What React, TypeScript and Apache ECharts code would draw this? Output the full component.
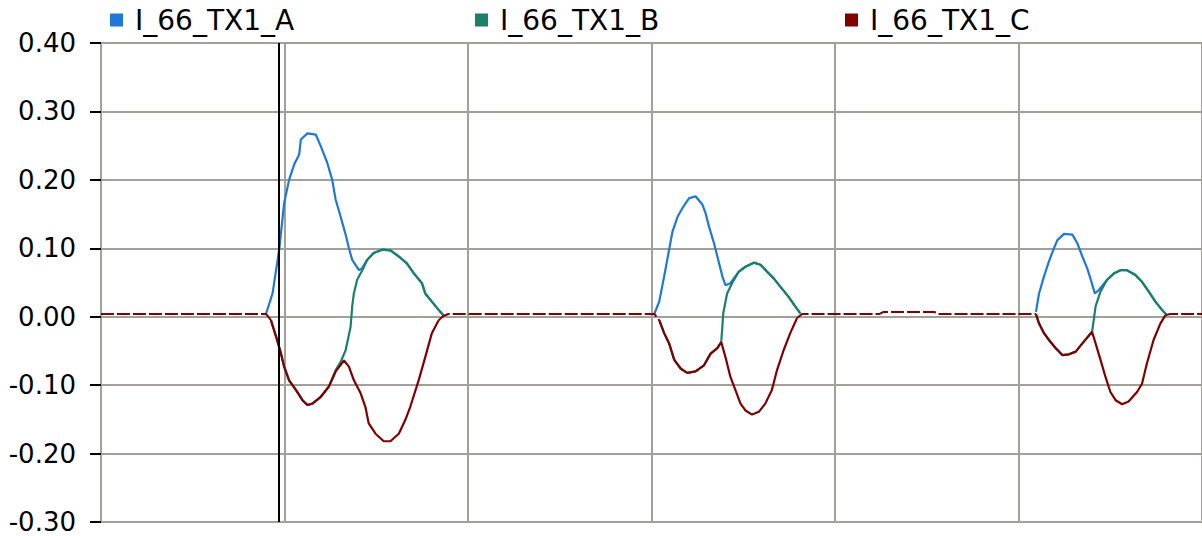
import React, { useEffect, useRef } from "react";
import * as echarts from "echarts";

// x in sample units (grid every 100), y in per-unit current
const SERIES_NAMES = ["I_66_TX1_A", "I_66_TX1_B", "I_66_TX1_C"];
const SERIES_COLORS = ["#1e78d7", "#1a8069", "#800000"];
const Y_TICKS = [-0.3, -0.2, -0.1, 0, 0.1, 0.2, 0.3, 0.4];
const CURSOR_X = 96.8;

const phaseA: [number, number][] = [
  [0, 0.004], [89.9, 0.004], [93.5, 0.034], [97.2, 0.1], [99.8, 0.166], [102.5, 0.2], [105.2, 0.222], [108.0, 0.237],
  [108.9, 0.259], [112.5, 0.268], [117.1, 0.266], [119.8, 0.249], [123.3, 0.225], [126.0, 0.2], [127.9, 0.171],
  [130.6, 0.146], [133.3, 0.12], [135.1, 0.1], [136.9, 0.083], [140.6, 0.068], [142.4, 0.071], [145.0, 0.083],
  [148.6, 0.093], [153.2, 0.098], [157.7, 0.097], [162.3, 0.088], [166.7, 0.078], [170.3, 0.064], [174.9, 0.049],
  [176.7, 0.034], [180.3, 0.022], [184.0, 0.01], [186.6, 0.002], [189.3, 0.004],
  [301.5, 0.004], [304.2, 0.022], [306.9, 0.059], [311.4, 0.124], [314.2, 0.146], [316.9, 0.159], [320.4, 0.173],
  [324.0, 0.176], [327.7, 0.164], [329.5, 0.151], [331.3, 0.132], [334.1, 0.107], [335.9, 0.088], [338.6, 0.059],
  [340.3, 0.046], [343.0, 0.049], [347.6, 0.066], [351.2, 0.073], [355.8, 0.079], [359.4, 0.076], [362.9, 0.066],
  [366.6, 0.056], [370.2, 0.044], [374.7, 0.029], [378.3, 0.015], [381.1, 0.005], [382.0, 0.004],
  [424.3, 0.004], [426.5, 0.007], [454.1, 0.007], [456.2, 0.004],
  [504.9, 0.004], [509.5, 0.007], [511.2, 0.034], [513.9, 0.059], [516.6, 0.081], [519.3, 0.1], [521.2, 0.112],
  [524.8, 0.121], [529.4, 0.12], [532.1, 0.107], [534.8, 0.088], [537.4, 0.071], [539.2, 0.056], [541.6, 0.034],
  [543.8, 0.039], [548.3, 0.054], [551.9, 0.063], [555.6, 0.068], [559.1, 0.068], [563.7, 0.061], [567.3, 0.051],
  [570.9, 0.037], [574.6, 0.022], [578.2, 0.01], [580.9, 0.002], [582.6, 0.004], [600, 0.004],
];

const phaseB: [number, number][] = [
  [0, 0.004], [89.9, 0.004], [92.6, -0.005], [95.4, -0.029], [98.1, -0.054], [99.8, -0.073], [102.5, -0.093],
  [106.2, -0.107], [109.8, -0.122], [112.5, -0.129], [115.2, -0.127], [119.8, -0.117], [124.2, -0.102],
  [127.9, -0.078], [130.6, -0.066], [133.3, -0.049], [136.0, -0.015], [136.9, 0.015], [137.8, 0.034], [139.6, 0.054],
  [142.4, 0.068], [145.0, 0.083], [148.6, 0.093], [153.2, 0.098], [157.7, 0.097], [162.3, 0.088], [166.7, 0.078],
  [170.3, 0.064], [174.9, 0.049], [176.7, 0.034], [180.3, 0.022], [184.0, 0.01], [186.6, 0.002], [189.3, 0.004],
  [301.5, 0.004], [304.2, -0.005], [306.9, -0.024], [309.6, -0.039], [312.4, -0.063], [316.0, -0.076],
  [319.5, -0.082], [324.0, -0.08], [328.6, -0.071], [332.2, -0.054], [335.9, -0.046], [338.0, -0.037],
  [338.6, -0.015], [339.1, 0.005], [341.2, 0.034], [343.9, 0.049], [347.6, 0.066], [351.2, 0.073], [355.8, 0.079],
  [359.4, 0.076], [362.9, 0.066], [366.6, 0.056], [370.2, 0.044], [374.7, 0.029], [378.3, 0.015], [381.1, 0.005],
  [382.0, 0.004],
  [424.3, 0.004], [426.5, 0.007], [454.1, 0.007], [456.2, 0.004],
  [509.5, 0.004], [511.2, -0.01], [513.9, -0.024], [516.6, -0.034], [520.3, -0.046], [523.9, -0.056],
  [527.5, -0.055], [531.2, -0.051], [534.8, -0.039], [540.1, -0.022], [541.0, -0.005], [542.0, 0.015],
  [544.7, 0.037], [548.3, 0.054], [551.9, 0.063], [555.6, 0.068], [559.1, 0.068], [563.7, 0.061], [567.3, 0.051],
  [570.9, 0.037], [574.6, 0.022], [578.2, 0.01], [580.9, 0.002], [582.6, 0.004], [600, 0.004],
];

const phaseC: [number, number][] = [
  [0, 0.004], [89.9, 0.004], [92.6, -0.005], [95.4, -0.029], [98.1, -0.054], [99.8, -0.073], [102.5, -0.093],
  [106.2, -0.107], [109.8, -0.122], [112.5, -0.129], [115.2, -0.127], [119.8, -0.117], [124.2, -0.102],
  [127.9, -0.08], [132.4, -0.064], [135.1, -0.073], [137.8, -0.093], [141.5, -0.112], [144.1, -0.132],
  [145.9, -0.156], [149.6, -0.171], [154.1, -0.182], [157.7, -0.182], [162.3, -0.171], [165.8, -0.151],
  [168.5, -0.132], [173.1, -0.093], [176.7, -0.059], [180.3, -0.024], [184.0, -0.005], [186.6, 0.001], [189.3, 0.004],
  [301.5, 0.004], [304.2, -0.005], [306.9, -0.024], [309.6, -0.039], [312.4, -0.063], [316.0, -0.076],
  [319.5, -0.082], [324.0, -0.08], [328.6, -0.071], [332.2, -0.054], [335.9, -0.046], [338.0, -0.037],
  [340.3, -0.059], [343.0, -0.088], [345.7, -0.107], [348.5, -0.127], [351.2, -0.137], [354.8, -0.143],
  [358.5, -0.139], [362.0, -0.127], [365.6, -0.107], [368.4, -0.078], [372.0, -0.049], [375.6, -0.024],
  [379.3, -0.002], [382.0, 0.004],
  [424.3, 0.004], [426.5, 0.007], [454.1, 0.007], [456.2, 0.004],
  [509.5, 0.004], [511.2, -0.01], [513.9, -0.024], [516.6, -0.034], [520.3, -0.046], [523.9, -0.056],
  [527.5, -0.055], [531.2, -0.051], [534.8, -0.039], [540.1, -0.022], [542.0, -0.039], [544.7, -0.063],
  [547.4, -0.088], [550.1, -0.11], [552.9, -0.122], [556.5, -0.128], [560.0, -0.124], [564.6, -0.11],
  [567.3, -0.098], [570.0, -0.068], [573.6, -0.034], [577.3, -0.01], [580.0, 0.002], [582.6, 0.004], [600, 0.004],
];

const SERIES_DATA = [phaseA, phaseB, phaseC];
const LEGEND_LEFTS = [110, 475, 845];
const FLAT_LIMIT = 0.008;

type Pt = [number, number] | null;

// Split one trace into its idle (near-zero) stretches and its active pulses,
// so the idle stretches can be drawn dashed and the pulses solid.
function splitTrace(data: [number, number][]) {
  const n = data.length;
  const segFlat: boolean[] = [];
  for (let i = 0; i < n - 1; i++) {
    segFlat.push(Math.abs(data[i][1]) <= FLAT_LIMIT && Math.abs(data[i + 1][1]) <= FLAT_LIMIT);
  }
  const curve: Pt[] = [];
  const flat: Pt[] = [];
  for (let i = 0; i < n; i++) {
    const prevFlat = i > 0 ? segFlat[i - 1] : true;
    const nextFlat = i < n - 1 ? segFlat[i] : true;
    if (!prevFlat || !nextFlat) {
      if (prevFlat && curve.length && curve[curve.length - 1] !== null) curve.push(null);
      curve.push(data[i]);
    }
    if ((i > 0 && prevFlat) || (i < n - 1 && nextFlat)) {
      if (!prevFlat && flat.length && flat[flat.length - 1] !== null) flat.push(null);
      flat.push(data[i]);
    }
  }
  return { curve, flat };
}

export default function App() {
  const ref = useRef<HTMLDivElement>(null);

  useEffect(() => {
    if (!ref.current) return;
    const chart = echarts.init(ref.current, undefined, { renderer: "svg" });
    const font = "'DejaVu Sans', Verdana, sans-serif";
    const grid = "#a39f9b";
    const last = SERIES_NAMES.length - 1;

    const series: any[] = [];
    SERIES_NAMES.forEach((name, i) => {
      const { curve, flat } = splitTrace(SERIES_DATA[i]);
      // idle stretches coincide for all phases; the top (C) trace carries the dashed look
      series.push({
        name,
        type: "line",
        data: flat,
        connectNulls: false,
        showSymbol: false,
        symbol: "none",
        color: SERIES_COLORS[i],
        lineStyle: { color: SERIES_COLORS[i], width: 2, type: [13, 3], opacity: i === last ? 1 : 0 },
        z: 2 + i,
      });
      series.push({
        name,
        type: "line",
        data: curve,
        connectNulls: false,
        showSymbol: false,
        symbol: "none",
        color: SERIES_COLORS[i],
        lineStyle: { color: SERIES_COLORS[i], width: 2.2, type: "solid" },
        z: 2 + i,
        ...(i === 0
          ? {
              markLine: {
                silent: true,
                symbol: ["none", "none"],
                label: { show: false },
                lineStyle: { color: "#000", width: 2, type: "solid" },
                data: [{ xAxis: CURSOR_X }],
              },
            }
          : {}),
      });
    });

    chart.setOption({
      animation: false,
      backgroundColor: "#ffffff",
      textStyle: { fontFamily: font },
      legend: SERIES_NAMES.map((name, i) => ({
        data: [name],
        left: LEGEND_LEFTS[i],
        top: 6,
        padding: 0,
        icon: "rect",
        itemWidth: 13,
        itemHeight: 13,
        selectedMode: false,
        itemStyle: { opacity: 1 },
        textStyle: { fontFamily: font, fontSize: 28, color: "#000", padding: [0, 0, 0, 7] },
      })),
      grid: { left: 101, right: -5, top: 43, bottom: 14, containLabel: false },
      xAxis: {
        type: "value",
        min: 0,
        max: 600,
        interval: 100,
        axisLine: { show: false },
        axisTick: { show: false },
        axisLabel: { show: false },
        splitLine: { show: true, lineStyle: { color: grid, width: 2 } },
      },
      yAxis: {
        type: "value",
        min: Y_TICKS[0],
        max: Y_TICKS[Y_TICKS.length - 1],
        interval: 0.1,
        axisLine: { show: true, lineStyle: { color: grid, width: 2 } },
        axisTick: { show: true, length: 11, lineStyle: { color: "#000", width: 2 } },
        axisLabel: {
          color: "#000",
          fontSize: 26,
          fontFamily: font,
          margin: 25,
          padding: [6, 0, 0, 0],
          formatter: (v: number) => v.toFixed(2),
        },
        splitLine: { show: true, lineStyle: { color: grid, width: 2 } },
      },
      series,
    });

    return () => chart.dispose();
  }, []);

  return (
    <div
      ref={ref}
      style={{ position: "absolute", left: 0, top: 0, width: 1202, height: 536, background: "#fff" }}
    />
  );
}
